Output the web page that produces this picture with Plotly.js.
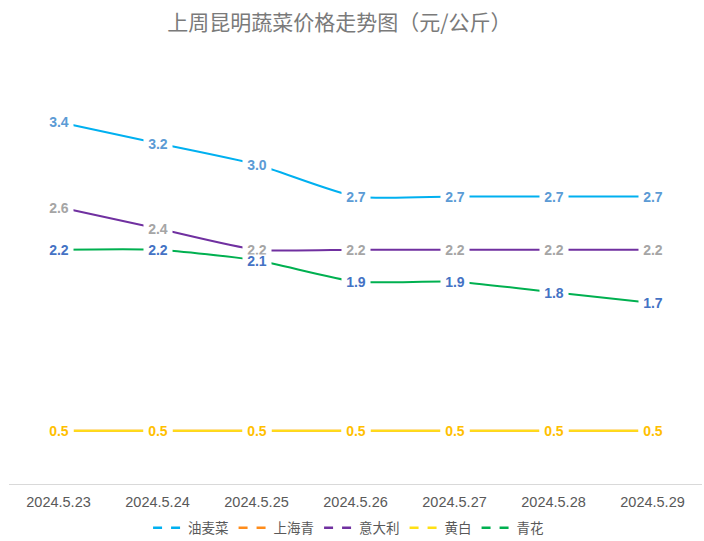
<!DOCTYPE html>
<html><head><meta charset="utf-8">
<script src="https://cdn.plot.ly/plotly-3.0.1.min.js"></script>
<style>html,body{margin:0;padding:0;background:#fff}#chart{width:704px;height:541px}</style>
</head><body><div id="chart"></div>
<script>
const dates = ['2024.5.23','2024.5.24','2024.5.25','2024.5.26','2024.5.27','2024.5.28','2024.5.29'];
const youmaicai = [3.4, 3.2, 3.0, 2.7, 2.7, 2.7, 2.7];
const shanghaiqing = [0.5, 0.5, 0.5, 0.5, 0.5, 0.5, 0.5];
const yidali = [2.6, 2.4, 2.2, 2.2, 2.2, 2.2, 2.2];
const huangbai = [0.5, 0.5, 0.5, 0.5, 0.5, 0.5, 0.5];
const qinghua = [2.2, 2.2, 2.1, 1.9, 1.9, 1.8, 1.7];
const names = ['油麦菜','上海青','意大利','黄白','青花'];
const seriesList = [youmaicai, shanghaiqing, yidali, huangbai, qinghua];
const lineColors = ['#00B0F0','#FF8C1A','#7030A0','#FFE014','#00B050'];
const labelColors = ['#5B9BD5','#ED7D31','#A5A5A5','#FFC000','#4472C4'];

const traces = [];
const annotations = [];
seriesList.forEach((vals, i) => {
  traces.push({
    x: dates, y: vals, type: 'scatter', mode: 'lines', name: names[i],
    line: {color: lineColors[i], width: 2, shape: 'spline', smoothing: 0.6},
    showlegend: false, hoverinfo: 'skip'
  });
});
seriesList.forEach((vals, i) => {
  traces.push({
    x: [null], y: [null], type: 'scatter', mode: 'lines', name: names[i],
    line: {color: lineColors[i], width: 2.5, dash: 'dash'}, showlegend: true
  });
});
seriesList.forEach((vals, i) => {
  vals.forEach((v, j) => {
    annotations.push({
      x: dates[j], y: v, xref: 'x', yref: 'y', text: v.toFixed(1), showarrow: false,
      font: {family: 'Liberation Sans, Arial, sans-serif', size: 14, color: labelColors[i], weight: 'bold'},
      bgcolor: '#ffffff', borderpad: 0, height: 11, width: 28, xanchor: 'center', yanchor: 'middle'
    });
  });
});

const layout = {
  width: 704, height: 541,
  margin: {l: 9, r: 2, t: 58, b: 57, autoexpand: false},
  paper_bgcolor: '#ffffff', plot_bgcolor: '#ffffff',
  title: {text: '上周昆明蔬菜价格走势图（元/公斤）', x: 0.482, xanchor: 'center', y: 0.958, yanchor: 'middle',
    font: {family: 'Noto Sans CJK SC, sans-serif', size: 21, color: '#7A7A7A'}},
  xaxis: {type: 'category', range: [-0.5, 6.5], showgrid: false, zeroline: false,
    showline: true, linecolor: '#D9D9D9', linewidth: 1, ticks: '', ticklabelstandoff: 5,
    tickfont: {family: 'Liberation Sans, Arial, sans-serif', size: 14.5, color: '#595959'}, fixedrange: true},
  yaxis: {range: [0, 4], visible: false, showgrid: false, zeroline: false, fixedrange: true},
  legend: {orientation: 'h', x: 0.49, xanchor: 'center', yref: 'container', y: 0.024, yanchor: 'middle',
    font: {family: 'Noto Sans CJK SC, sans-serif', size: 13.5, color: '#595959'},
    itemwidth: 30, tracegroupgap: 0},
  annotations: annotations,
  showlegend: true
};
Plotly.newPlot('chart', traces, layout, {displayModeBar: false, staticPlot: true});
</script></body></html>
